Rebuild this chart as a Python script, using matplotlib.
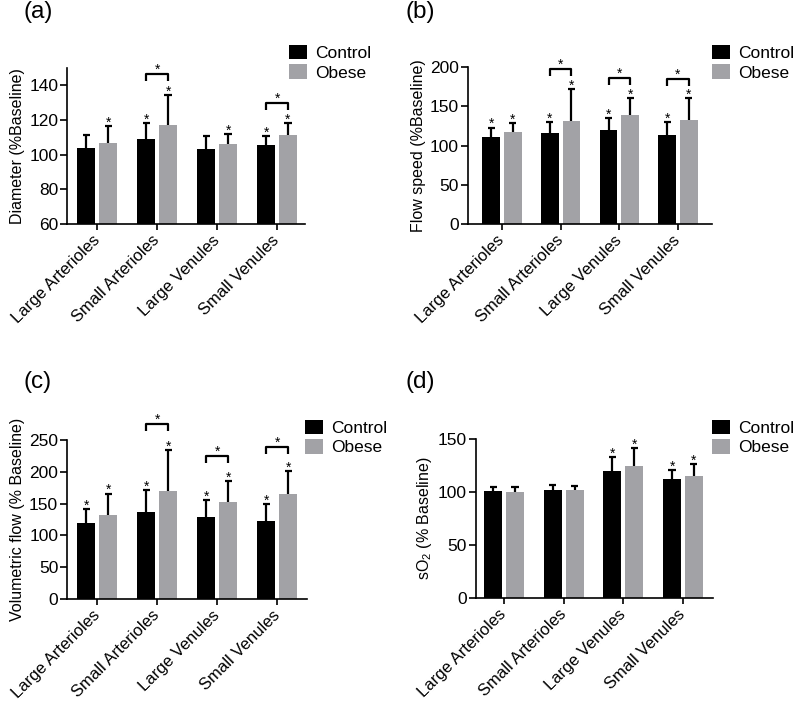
import matplotlib
matplotlib.use('Agg')
import matplotlib.pyplot as plt
from matplotlib.patches import Patch
import numpy as np

plt.rcParams['font.family'] = ['Liberation Sans', 'DejaVu Sans']

categories = ['Large Arterioles', 'Small Arterioles', 'Large Venules', 'Small Venules']
group_names = ['Control', 'Obese']
bar_colors = ['#000000', '#a2a2a6']

# (a) diameter, % of baseline: mean and upper SD
diam_control = [104.0, 109.0, 103.3, 105.6]
diam_control_sd = [7.5, 9.3, 7.3, 5.4]
diam_obese = [107.0, 117.3, 106.2, 111.5]
diam_obese_sd = [9.3, 17.3, 5.8, 6.8]
diam_control_sig = [False, True, False, True]
diam_obese_sig = [True, True, True, True]
diam_brackets = [None, 146.7, None, 130.0]

# (b) flow speed
speed_control = [111.0, 115.5, 119.7, 113.3]
speed_control_sd = [12.0, 14.5, 14.8, 16.7]
speed_obese = [117.5, 131.5, 138.7, 132.4]
speed_obese_sd = [11.5, 40.2, 22.0, 28.3]
speed_control_sig = [True, True, True, True]
speed_obese_sig = [True, True, True, True]
speed_brackets = [None, 198.0, 186.5, 185.0]

# (c) volumetric flow
vol_control = [119.5, 136.3, 128.4, 123.0]
vol_control_sd = [22.5, 35.7, 27.9, 26.5]
vol_obese = [132.6, 170.5, 152.0, 165.0]
vol_obese_sd = [33.2, 63.5, 33.0, 36.0]
vol_control_sig = [True, True, True, True]
vol_obese_sig = [True, True, True, True]
vol_brackets = [None, 274.7, 224.7, 239.5]

# (d) sO2
so2_control = [101.3, 101.9, 119.7, 112.0]
so2_control_sd = [3.1, 4.4, 12.9, 8.7]
so2_obese = [99.7, 101.6, 124.5, 115.4]
so2_obese_sd = [5.3, 4.0, 16.9, 11.2]
so2_control_sig = [False, False, True, True]
so2_obese_sig = [False, False, True, True]
so2_brackets = [None, None, None, None]

fig = plt.figure(figsize=(8, 7.1), dpi=100)

WIDTH = 0.3
OFFSET = 0.183
CAP = 0.06


def star(ax, x, y, dy=-0.5):
    ax.annotate('*', (x, y), xytext=(0, dy), textcoords='offset points',
                ha='center', va='baseline', fontsize=10, annotation_clip=False)


def panel(rect, label, label_pos, ylabel, ylim, yticks, xlim, means, sds, sigs,
          brackets, legend_pos):
    ax = fig.add_axes(rect)
    x = np.arange(len(categories))
    centers = []
    for i in range(2):
        xc = x + (i - 0.5) * 2 * OFFSET
        centers.append(xc)
        m = np.array(means[i])
        s = np.array(sds[i])
        ax.bar(xc, m, WIDTH, color=bar_colors[i], zorder=2)
        ax.vlines(xc, m, m + s, color='k', lw=1.6, zorder=3)
        ax.hlines(m + s, xc - CAP, xc + CAP, color='k', lw=1.6, zorder=3)
        for j in range(len(x)):
            if sigs[i][j]:
                star(ax, xc[j], m[j] + s[j])
    leg = 0.045 * (ylim[1] - ylim[0])
    for j, h in enumerate(brackets):
        if h is None:
            continue
        x0, x1 = centers[0][j], centers[1][j]
        ax.plot([x0, x0, x1, x1], [h - leg, h, h, h - leg], color='k', lw=1.6,
                clip_on=False, solid_capstyle='butt')
        star(ax, (x0 + x1) / 2, h, dy=0)

    ax.set_xlim(*xlim)
    ax.set_ylim(*ylim)
    ax.set_yticks(yticks)
    ax.set_xticks(x)
    ax.set_xticklabels(categories, rotation=45, ha='right', va='center',
                       rotation_mode='anchor')
    ax.set_ylabel(ylabel, fontsize=11.5, labelpad=3)
    for side in ['top', 'right']:
        ax.spines[side].set_visible(False)
    for side in ['left', 'bottom']:
        ax.spines[side].set_linewidth(1.2)
    ax.tick_params(axis='y', length=5, width=1.2, pad=1.5, labelsize=12.5)
    ax.tick_params(axis='x', length=4, width=1.2, pad=6, labelsize=12)

    handles = [Patch(facecolor=c, edgecolor='none') for c in bar_colors]
    fig.legend(handles, group_names, loc='upper left', bbox_to_anchor=legend_pos,
               bbox_transform=fig.transFigure, frameon=False, fontsize=12.5,
               borderpad=0, handlelength=1.05, handleheight=0.9,
               handletextpad=0.45, labelspacing=0.2, borderaxespad=0)
    fig.text(label_pos[0], label_pos[1], label, fontsize=17.5, ha='left', va='top')
    return ax


panel([0.084, 0.6845, 0.2975, 0.2197], '(a)', (0.029, 0.999),
      'Diameter (%Baseline)', (60, 150), [60, 80, 100, 120, 140], (-0.5, 3.47),
      [diam_control, diam_obese], [diam_control_sd, diam_obese_sd],
      [diam_control_sig, diam_obese_sig], diam_brackets, (0.361, 0.937))

panel([0.585, 0.6845, 0.305, 0.221], '(b)', (0.507, 0.999),
      'Flow speed (%Baseline)', (0, 200), [0, 50, 100, 150, 200], (-0.58, 3.58),
      [speed_control, speed_obese], [speed_control_sd, speed_obese_sd],
      [speed_control_sig, speed_obese_sig], speed_brackets, (0.89, 0.937))

panel([0.084, 0.1563, 0.30, 0.224], '(c)', (0.029, 0.478),
      'Volumetric flow (% Baseline)', (0, 250), [0, 50, 100, 150, 200, 250],
      (-0.5, 3.5),
      [vol_control, vol_obese], [vol_control_sd, vol_obese_sd],
      [vol_control_sig, vol_obese_sig], vol_brackets, (0.381, 0.409))

panel([0.595, 0.1577, 0.296, 0.224], '(d)', (0.507, 0.478),
      r'sO$_\mathregular{2}$ (% Baseline)', (0, 150), [0, 50, 100, 150],
      (-0.47, 3.5),
      [so2_control, so2_obese], [so2_control_sd, so2_obese_sd],
      [so2_control_sig, so2_obese_sig], so2_brackets, (0.89, 0.409))

fig.savefig('out.png', dpi=100)
